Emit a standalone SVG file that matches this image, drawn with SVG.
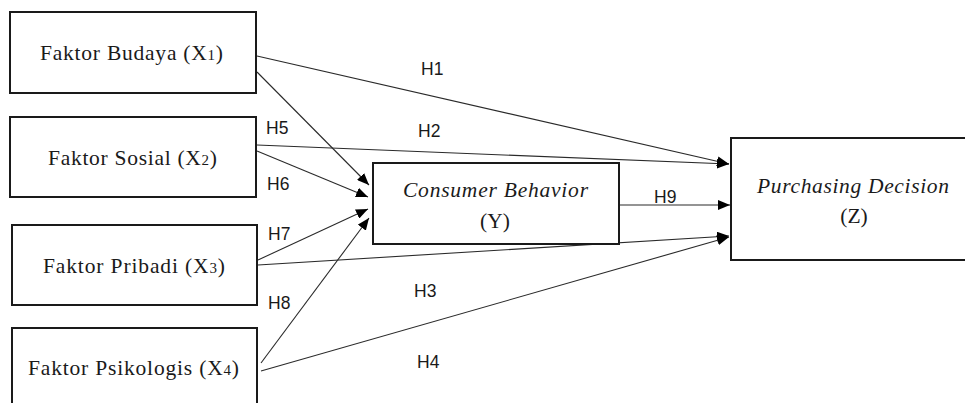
<svg xmlns="http://www.w3.org/2000/svg" width="965" height="403" viewBox="0 0 965 403">
<style>
.box{fill:#fff;stroke:#1a1a1a;stroke-width:2}
.lbl{font-family:"Liberation Serif","Times New Roman",serif;font-size:21.5px;fill:#1a1a1a}
.it{font-style:italic}
.sub{font-size:15px}
.h{font-family:"Liberation Sans",Arial,sans-serif;font-size:17.5px;fill:#1a1a1a}
.c{fill:none;stroke:#2a2a2a;stroke-width:1.1}
</style>
<defs>
<marker id="ah" markerUnits="userSpaceOnUse" markerWidth="12" markerHeight="10" refX="12" refY="5" orient="auto">
<path d="M0,0 L12,5 L0,10 z" fill="#000"/>
</marker>
</defs>
<rect width="965" height="403" fill="#fff"/>
<g id="connectors">
<line class="c" x1="257" y1="56" x2="729" y2="164" marker-end="url(#ah)"/>
<line class="c" x1="257" y1="72" x2="369" y2="185" marker-end="url(#ah)"/>
<line class="c" x1="257" y1="145" x2="729" y2="164" marker-end="url(#ah)"/>
<line class="c" x1="257" y1="151" x2="368" y2="197" marker-end="url(#ah)"/>
<line class="c" x1="258" y1="260" x2="368" y2="209" marker-end="url(#ah)"/>
<line class="c" x1="258" y1="265" x2="729" y2="236" marker-end="url(#ah)"/>
<line class="c" x1="261" y1="363" x2="369" y2="218" marker-end="url(#ah)"/>
<line class="c" x1="261" y1="371" x2="729" y2="237" marker-end="url(#ah)"/>
<line class="c" x1="619" y1="205" x2="730" y2="205" marker-end="url(#ah)"/>
<text class="h" x="421" y="75">H1</text>
<text class="h" x="418" y="137">H2</text>
<text class="h" x="414" y="297">H3</text>
<text class="h" x="417" y="368">H4</text>
<text class="h" x="266" y="134">H5</text>
<text class="h" x="267" y="190">H6</text>
<text class="h" x="268" y="240">H7</text>
<text class="h" x="268" y="309">H8</text>
<text class="h" x="654" y="203">H9</text>
</g>
<g id="X1">
<rect class="box" x="10" y="12" width="246" height="81"/>
<text class="lbl" x="40" y="60" textLength="183" lengthAdjust="spacing">Faktor Budaya (X<tspan class="sub">1</tspan>)</text>
</g>
<g id="X2">
<rect class="box" x="10" y="117" width="246" height="80"/>
<text class="lbl" x="48" y="165" textLength="169" lengthAdjust="spacing">Faktor Sosial (X<tspan class="sub">2</tspan>)</text>
</g>
<g id="X3">
<rect class="box" x="12" y="225" width="245" height="80"/>
<text class="lbl" x="43" y="273" textLength="182" lengthAdjust="spacing">Faktor Pribadi (X<tspan class="sub">3</tspan>)</text>
</g>
<g id="X4">
<rect class="box" x="12" y="328" width="245" height="90"/>
<text class="lbl" x="28" y="375" textLength="211" lengthAdjust="spacing">Faktor Psikologis (X<tspan class="sub">4</tspan>)</text>
</g>
<g id="Y">
<rect class="box" x="373" y="163" width="246" height="81"/>
<text class="lbl it" x="403" y="197" textLength="185" lengthAdjust="spacing">Consumer Behavior</text>
<text class="lbl" x="495" y="228" text-anchor="middle">(Y)</text>
</g>
<g id="Z">
<rect class="box" x="731" y="138" width="240" height="122"/>
<text class="lbl it" x="757" y="193" textLength="192" lengthAdjust="spacing">Purchasing Decision</text>
<text class="lbl" x="854" y="223" text-anchor="middle">(Z)</text>
</g>
</svg>
